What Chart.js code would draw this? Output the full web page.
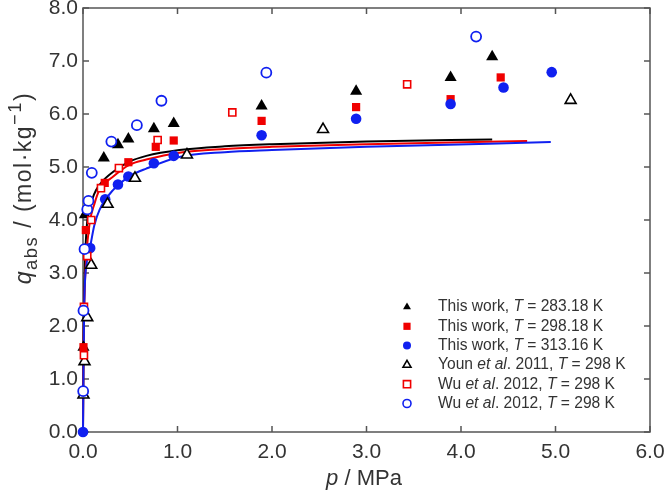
<!DOCTYPE html>
<html>
<head>
<meta charset="utf-8">
<script src="https://cdn.jsdelivr.net/npm/chart.js@4/dist/chart.umd.min.js"></script>
<style>
  html, body { margin: 0; padding: 0; background: #fff; }
  #wrap { width: 664px; height: 493px; }
</style>
</head>
<body>
<div id="wrap"><canvas id="myChart" width="664" height="493"></canvas></div>
<script>
const pBlack = [0.005, 0.02, 0.22, 0.37, 0.48, 0.75, 0.96, 1.89, 2.89, 3.89, 4.33];
const qBlack = [1.6, 4.1, 5.17, 5.42, 5.53, 5.72, 5.82, 6.15, 6.43, 6.69, 7.08];

const pRed = [0.005, 0.03, 0.23, 0.48, 0.77, 0.96, 1.89, 2.89, 3.89, 4.42];
const qRed = [1.6, 3.81, 4.70, 5.09, 5.38, 5.50, 5.87, 6.13, 6.28, 6.69];

const pBlue = [0, 0.076, 0.235, 0.37, 0.48, 0.75, 0.96, 1.89, 2.89, 3.89, 4.45, 4.96];
const qBlue = [0, 3.47, 4.39, 4.67, 4.82, 5.07, 5.21, 5.60, 5.91, 6.19, 6.50, 6.79];

const pYoun = [0.005, 0.016, 0.045, 0.087, 0.26, 0.55, 1.10, 2.54, 5.16];
const qYoun = [0.70, 1.33, 2.16, 3.15, 4.30, 4.79, 5.23, 5.71, 6.26];

const pWuRed = [0.01, 0.01, 0.045, 0.087, 0.19, 0.38, 0.79, 1.58, 3.43];
const qWuRed = [1.45, 2.36, 3.32, 4.00, 4.60, 4.98, 5.51, 6.03, 6.56];

const pWuBlue = [0.002, 0.005, 0.016, 0.045, 0.058, 0.093, 0.30, 0.57, 0.83, 1.94, 4.16];
const qWuBlue = [0.77, 2.29, 3.45, 4.20, 4.36, 4.89, 5.48, 5.79, 6.25, 6.78, 7.46];

// fitted isotherms
const pFitBlack = [0, 0.005, 0.015, 0.03, 0.05, 0.1, 0.14, 0.2, 0.32, 0.49, 0.67, 1.02, 1.5, 2.0, 3.0, 4.33];
const qFitBlack = [0, 1.6, 2.8, 3.6, 4.06, 4.4, 4.57, 4.72, 4.91, 5.10, 5.21, 5.32, 5.39, 5.43, 5.48, 5.52];

const pFitRed = [0, 0.005, 0.015, 0.035, 0.07, 0.12, 0.175, 0.32, 0.49, 0.67, 1.02, 1.5, 2.0, 3.0, 4.7];
const qFitRed = [0, 1.45, 2.5, 3.3, 3.94, 4.3, 4.57, 4.82, 5.04, 5.14, 5.27, 5.34, 5.38, 5.43, 5.49];

const pFitBlue = [0, 0.005, 0.012, 0.04, 0.076, 0.12, 0.175, 0.32, 0.49, 0.67, 1.02, 1.5, 2.0, 3.0, 4.95];
const qFitBlue = [0, 1.2, 2.3, 3.2, 3.5, 3.9, 4.19, 4.57, 4.82, 4.97, 5.19, 5.28, 5.32, 5.38, 5.47];

const xTicks = [0, 1, 2, 3, 4, 5, 6];
const yTicks = [0, 1, 2, 3, 4, 5, 6, 7, 8];

const legendRows = [
  [{ t: "This work, " }, { t: "T", i: true }, { t: " = 283.18 K" }],
  [{ t: "This work, " }, { t: "T", i: true }, { t: " = 298.18 K" }],
  [{ t: "This work, " }, { t: "T", i: true }, { t: " = 313.16 K" }],
  [{ t: "Youn " }, { t: "et al", i: true }, { t: ". 2011, " }, { t: "T", i: true }, { t: " = 298 K" }],
  [{ t: "Wu " }, { t: "et al", i: true }, { t: ". 2012, " }, { t: "T", i: true }, { t: " = 298 K" }],
  [{ t: "Wu " }, { t: "et al", i: true }, { t: ". 2012, " }, { t: "T", i: true }, { t: " = 298 K" }],
];

const BLACK = "#000000";
const RED = "#f00000";
const BLUE = "#1020f0";
const TEXT = "#333333";
const FONT = "'Liberation Sans', Arial, sans-serif";

function pts(xs, ys) {
  return xs.map((x, i) => ({ x: x, y: ys[i] }));
}

function rich(ctx, parts, x, y, size, align, gap) {
  gap = gap || 0;
  let w = 0;
  parts.forEach((p) => {
    const s = p.s ? size * 0.8 : size;
    ctx.font = (p.i ? "italic " : "") + s + "px " + FONT;
    p.w = ctx.measureText(p.t).width + gap * p.t.length;
    w += p.w;
  });
  let cx = align === "center" ? x - w / 2 : x;
  parts.forEach((p) => {
    const s = p.s ? size * 0.8 : size;
    ctx.font = (p.i ? "italic " : "") + s + "px " + FONT;
    let dy = 0;
    if (p.s === "sub") dy = size * 0.32;
    if (p.s === "sup") dy = -size * 0.4;
    if (gap) {
      // spread characters a little, like the original typesetting
      let cc = cx;
      for (const ch of p.t) {
        ctx.fillText(ch, cc, y + dy);
        cc += ctx.measureText(ch).width + gap;
      }
    } else {
      ctx.fillText(p.t, cx, y + dy);
    }
    cx += p.w;
  });
}

function marker(ctx, kind, x, y) {
  ctx.save();
  ctx.lineWidth = 1.6;
  ctx.beginPath();
  if (kind === "tri" || kind === "otri") {
    const r = 4.6;
    ctx.moveTo(x, y - r);
    ctx.lineTo(x + r * 0.866, y + r / 2);
    ctx.lineTo(x - r * 0.866, y + r / 2);
    ctx.closePath();
  } else if (kind === "sq" || kind === "osq") {
    ctx.rect(x - 3.6, y - 3.6, 7.2, 7.2);
  } else {
    ctx.arc(x, y, 4, 0, Math.PI * 2);
  }
  const col = kind.indexOf("tri") >= 0 ? BLACK : kind.indexOf("sq") >= 0 ? RED : BLUE;
  if (kind[0] === "o") {
    ctx.fillStyle = "#fff";
    ctx.fill();
    ctx.strokeStyle = col;
    ctx.stroke();
  } else {
    ctx.fillStyle = col;
    ctx.fill();
  }
  ctx.restore();
}

const framePlugin = {
  id: "frame",
  beforeDatasetsDraw(chart) {
    const ctx = chart.ctx;
    const a = chart.chartArea;
    const xs = chart.scales.x;
    const ys = chart.scales.y;
    ctx.save();
    ctx.strokeStyle = "#555555";
    ctx.lineWidth = 1.5;
    ctx.strokeRect(a.left, a.top, a.right - a.left, a.bottom - a.top);
    const tl = 6;
    ctx.beginPath();
    xTicks.forEach((v) => {
      const px = xs.getPixelForValue(v);
      ctx.moveTo(px, a.bottom);
      ctx.lineTo(px, a.bottom - tl);
      ctx.moveTo(px, a.top);
      ctx.lineTo(px, a.top + tl);
    });
    yTicks.forEach((v) => {
      const py = ys.getPixelForValue(v);
      ctx.moveTo(a.left, py);
      ctx.lineTo(a.left + tl, py);
      ctx.moveTo(a.right, py);
      ctx.lineTo(a.right - tl, py);
    });
    ctx.stroke();
    ctx.restore();
  },
  afterDraw(chart) {
    const ctx = chart.ctx;
    const a = chart.chartArea;
    ctx.save();
    // axis titles
    ctx.fillStyle = TEXT;
    ctx.textBaseline = "middle";
    rich(ctx, [{ t: "p", i: true }, { t: " / MPa" }], 364, 479, 22, "center");

    ctx.save();
    ctx.translate(25, 188);
    ctx.rotate(-Math.PI / 2);
    rich(ctx, [
      { t: "q", i: true },
      { t: "abs", s: "sub" },
      { t: " / (mol\u00b7kg" },
      { t: "\u22121", s: "sup" },
      { t: ")" },
    ], 0, 0, 23, "center", 1.5);
    ctx.restore();

    // legend
    const kinds = ["tri", "sq", "dot", "otri", "osq", "odot"];
    legendRows.forEach((row, i) => {
      const y = 307 + i * 19.3;
      marker(ctx, kinds[i], 407, y);
      ctx.fillStyle = TEXT;
      rich(ctx, row, 438, y, 15.6, "left");
    });
    ctx.restore();
  },
};

const ctx = document.getElementById("myChart");

new Chart(ctx, {
  type: "scatter",
  data: {
    datasets: [
      {
        data: pts(pWuBlue, qWuBlue),
        pointStyle: "circle",
        pointRadius: 5,
        borderWidth: 1.8,
        borderColor: BLUE,
        backgroundColor: "#ffffff",
        clip: false,
      },
      {
        data: pts(pWuRed, qWuRed),
        pointStyle: "rect",
        pointRadius: 5,
        borderWidth: 1.6,
        borderColor: RED,
        backgroundColor: "#ffffff",
        clip: false,
      },
      {
        data: pts(pYoun, qYoun),
        pointStyle: "triangle",
        pointRadius: 6.3,
        borderWidth: 1.6,
        borderColor: BLACK,
        backgroundColor: "#ffffff",
        clip: false,
      },
      {
        data: pts(pBlue, qBlue),
        pointStyle: "circle",
        pointRadius: 5.3,
        borderWidth: 0,
        backgroundColor: BLUE,
        clip: false,
      },
      {
        data: pts(pRed, qRed),
        pointStyle: "rect",
        pointRadius: 5.8,
        borderWidth: 0,
        backgroundColor: RED,
        clip: false,
      },
      {
        data: pts(pBlack, qBlack),
        pointStyle: "triangle",
        pointRadius: 7,
        borderWidth: 0,
        backgroundColor: BLACK,
        clip: false,
      },
      {
        data: pts(pFitBlue, qFitBlue),
        showLine: true,
        pointRadius: 0,
        borderColor: BLUE,
        borderWidth: 2,
        cubicInterpolationMode: "monotone",
        clip: false,
      },
      {
        data: pts(pFitRed, qFitRed),
        showLine: true,
        pointRadius: 0,
        borderColor: RED,
        borderWidth: 2,
        cubicInterpolationMode: "monotone",
        clip: false,
      },
      {
        data: pts(pFitBlack, qFitBlack),
        showLine: true,
        pointRadius: 0,
        borderColor: BLACK,
        borderWidth: 2,
        cubicInterpolationMode: "monotone",
        clip: false,
      },
    ],
  },
  options: {
    responsive: false,
    animation: false,
    layout: { padding: { left: 0, top: 8, right: 14, bottom: 0 } },
    plugins: {
      legend: { display: false },
      tooltip: { enabled: false },
    },
    scales: {
      x: {
        type: "linear",
        min: 0,
        max: 6,
        afterBuildTicks: (s) => { s.ticks = xTicks.map((v) => ({ value: v })); },
        afterFit: (s) => { s.height = 61; s.paddingLeft = 0; s.paddingRight = 0; },
        grid: { display: false, drawTicks: false },
        border: { display: false },
        ticks: {
          padding: 8,
          color: TEXT,
          font: { family: FONT, size: 21 },
          callback: (v) => Number(v).toFixed(1),
        },
      },
      y: {
        type: "linear",
        min: 0,
        max: 8,
        afterBuildTicks: (s) => { s.ticks = yTicks.map((v) => ({ value: v })); },
        afterFit: (s) => { s.width = 83; s.paddingTop = 0; s.paddingBottom = 0; },
        grid: { display: false, drawTicks: false },
        border: { display: false },
        ticks: {
          padding: 5,
          color: TEXT,
          font: { family: FONT, size: 21 },
          callback: (v) => Number(v).toFixed(1),
        },
      },
    },
  },
  plugins: [framePlugin],
});
</script>
</body>
</html>
